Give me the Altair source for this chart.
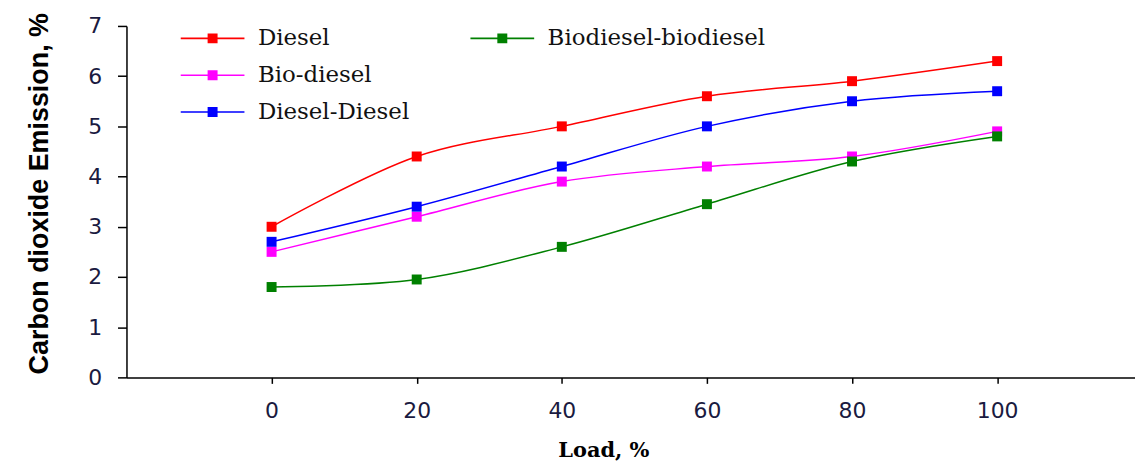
import altair as alt
import pandas as pd

loads = [0, 20, 40, 60, 80, 100]
diesel = [3.0, 4.4, 5.0, 5.6, 5.9, 6.3]
bio_diesel = [2.5, 3.2, 3.9, 4.2, 4.4, 4.9]
diesel_diesel = [2.7, 3.4, 4.2, 5.0, 5.5, 5.7]
bio_bio = [1.8, 1.95, 2.6, 3.45, 4.3, 4.8]

names_a = ["Diesel", "Bio-diesel", "Diesel-Diesel"]
colors_a = ["#ff0000", "#ff00ff", "#0000ff"]
names_b = ["Biodiesel-biodiesel"]
colors_b = ["#008000"]

rows = []
for name, vals in zip(names_a + names_b, [diesel, bio_diesel, diesel_diesel, bio_bio]):
    for l, v in zip(loads, vals):
        rows.append({"Load": l, "CO2": v, "Series": name})
df = pd.DataFrame(rows)
df_a = df[df["Series"].isin(names_a)]
df_b = df[df["Series"].isin(names_b)]

x_enc = alt.X(
    "Load:Q",
    scale=alt.Scale(domain=[-20, 119], nice=False, zero=False),
    axis=alt.Axis(
        values=loads, title="Load, %", titleX=479,
        titleFont="DejaVu Serif", titleFontWeight="bold", titleFontSize=21,
        titleColor="#000000", titlePadding=18,
        labelFont="DejaVu Sans", labelFontSize=22, labelColor="#1a1a40",
        labelPadding=17, tickSize=6,
    ),
)
y_enc = alt.Y(
    "CO2:Q",
    scale=alt.Scale(domain=[0, 7], nice=False),
    axis=alt.Axis(
        values=[0, 1, 2, 3, 4, 5, 6, 7], title="Carbon dioxide Emission, %",
        titleFont="Liberation Sans", titleFontWeight="bold", titleFontSize=27,
        titleColor="#000000", titlePadding=34, titleY=168,
        labelFont="DejaVu Sans", labelFontSize=22, labelColor="#1a1a40",
        labelPadding=16, tickSize=9,
    ),
)

sym_path = "M-3.2,-0.08H3.2V0.08H-3.2Z M-0.5,-0.5H0.5V0.5H-0.5Z"


def legend(x, y):
    return alt.Legend(
        title=None, orient="none", legendX=x, legendY=y, padding=0,
        symbolType=sym_path, symbolSize=400, symbolStrokeWidth=0,
        labelFont="DejaVu Serif", labelFontSize=23, labelColor="#111111",
        labelOffset=34, rowPadding=13, labelLimit=400,
    )


def layers(data, names, colors, lx, ly):
    scale = alt.Scale(domain=names, range=colors)
    line = alt.Chart(data).mark_line(strokeWidth=1.5, interpolate="catmull-rom").encode(
        x=x_enc, y=y_enc, color=alt.Color("Series:N", scale=scale, legend=None)
    )
    pts = alt.Chart(data).mark_point(shape="square", filled=True, size=100, opacity=1).encode(
        x=x_enc, y=y_enc, color=alt.Color("Series:N", scale=scale, legend=legend(lx, ly))
    )
    return [line, pts]


chart = alt.layer(
    *layers(df_a, names_a, colors_a, 75, 1),
    *layers(df_b, names_b, colors_b, 366, 1),
).resolve_scale(color="independent").resolve_legend(color="independent").properties(
    width=1013, height=353,
    autosize=alt.AutoSizeParams(type="none"),
    padding={"left": 119, "top": 17, "right": 0, "bottom": 92},
).configure_view(stroke=None).configure_axis(
    grid=False, domainColor="#000000", domainWidth=1.5, tickColor="#000000", tickWidth=1.5
)

chart.save("out.html", embed_options={"renderer": "svg", "actions": False})
